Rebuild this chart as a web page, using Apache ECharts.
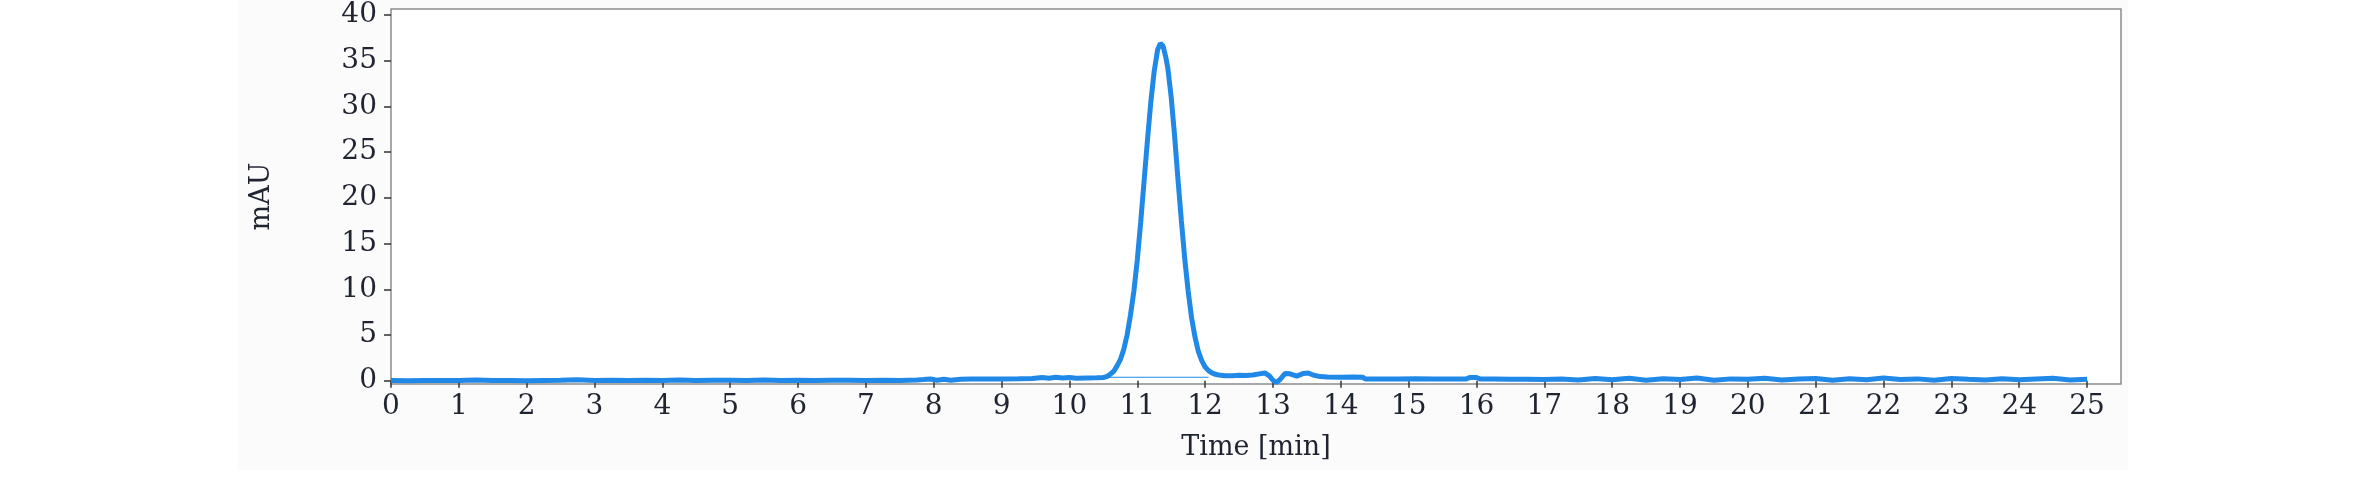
<!DOCTYPE html>
<html>
<head>
<meta charset="utf-8">
<title>Chromatogram</title>
<script src="https://cdn.jsdelivr.net/npm/echarts@6/dist/echarts.min.js"></script>
<style>
  html, body { margin: 0; padding: 0; background: #fff; }
  #chart { width: 2371px; height: 486px; }
</style>
</head>
<body>
<div id="chart"></div>
<script>
// retention time [min]
var times = [
  0, 0.25, 0.5, 0.75, 1, 1.25, 1.5, 1.75, 2, 2.25, 2.5, 2.75, 3, 3.25, 3.5, 3.75,
  4, 4.25, 4.5, 4.75, 5, 5.25, 5.5, 5.75, 6, 6.25, 6.5, 6.75, 7, 7.25, 7.5, 7.75,
  7.85, 7.95, 8.05, 8.15, 8.25, 8.4, 8.55, 8.75, 9, 9.25, 9.45, 9.6, 9.7, 9.8, 9.9, 10, 10.1, 10.25, 10.4,
  10.5, 10.55, 10.6, 10.65, 10.7, 10.75, 10.8, 10.85, 10.9, 10.95, 11, 11.05, 11.1, 11.15, 11.2, 11.25, 11.3, 11.34,
  11.38, 11.42, 11.45, 11.5, 11.55, 11.6, 11.65, 11.7, 11.75, 11.8, 11.85, 11.9, 11.95, 12, 12.05, 12.1, 12.15, 12.2, 12.3,
  12.4, 12.5, 12.6, 12.7, 12.8, 12.88, 12.95, 13, 13.05, 13.1, 13.18, 13.25, 13.35, 13.45, 13.52, 13.6, 13.7, 13.8, 14, 14.2, 14.32,
  14.36, 14.6, 14.85, 15.1, 15.35, 15.6, 15.85, 15.9, 16, 16.05,
  16.25, 16.5, 16.75, 17, 17.25, 17.5, 17.75, 18, 18.25, 18.5, 18.75, 19, 19.25, 19.5, 19.75, 20,
  20.25, 20.5, 20.75, 21, 21.25, 21.5, 21.75, 22, 22.25, 22.5, 22.75, 23, 23.25, 23.5, 23.75, 24, 24.25, 24.5, 24.75, 25
];
// absorbance [mAU]
var mAU = [
  0.02, 0.00, 0.03, 0.01, 0.02, 0.08, 0.01, 0.03, 0.00, 0.02, 0.04, 0.10, 0.02, 0.05, 0.01, 0.06,
  0.03, 0.08, 0.02, 0.04, 0.06, 0.02, 0.07, 0.03, 0.05, 0.01, 0.06, 0.04, 0.02, 0.05, 0.03, 0.08,
  0.12, 0.18, 0.06, 0.16, 0.05, 0.15, 0.20, 0.18, 0.20, 0.22, 0.24, 0.36, 0.28, 0.38, 0.30, 0.36, 0.28, 0.30, 0.32,
  0.35, 0.45, 0.7, 1.0, 1.6, 2.3, 3.4, 5.0, 7.2, 9.8, 13.2, 17.3, 21.8, 26.3, 30.5, 33.9, 36.2, 36.9,
  36.6, 35.4, 34.2, 31.0, 26.8, 22.0, 17.5, 13.3, 9.8, 6.9, 4.8, 3.2, 2.2, 1.5, 1.1, 0.85, 0.7, 0.62, 0.55,
  0.55, 0.6, 0.58, 0.62, 0.75, 0.85, 0.5, 0.05, -0.2, 0.1, 0.8, 0.75, 0.5, 0.8, 0.85, 0.6, 0.45, 0.4, 0.38, 0.4, 0.38,
  0.2, 0.2, 0.18, 0.22, 0.2, 0.18, 0.2, 0.35, 0.35, 0.2,
  0.18, 0.15, 0.17, 0.12, 0.2, 0.08, 0.25, 0.1, 0.28, 0.06, 0.22, 0.12, 0.3, 0.05, 0.2, 0.15,
  0.27, 0.08, 0.18, 0.24, 0.06, 0.22, 0.1, 0.3, 0.12, 0.2, 0.05, 0.25, 0.15, 0.08, 0.22, 0.1, 0.18, 0.26, 0.08, 0.15
];
// integration baseline under the main peak
var baseTimes = [10.58, 12.05];
var baseValues = [0.38, 0.38];

var xTicks = [0, 1, 2, 3, 4, 5, 6, 7, 8, 9, 10, 11, 12, 13, 14, 15, 16, 17, 18, 19, 20, 21, 22, 23, 24, 25];
var yTicks = [0, 5, 10, 15, 20, 25, 30, 35, 40];

var font = 'DejaVu Serif';
var blue = '#2088e6';

var chart = echarts.init(document.getElementById('chart'));

var trace = times.map(function(t, i) { return [t, mAU[i]]; });
var baseline = baseTimes.map(function(t, i) { return [t, baseValues[i]]; });

chart.setOption({
  animation: false,
  backgroundColor: '#fff',
  graphic: [{
    type: 'rect',
    z: -10,
    shape: { x: 238, y: 0, width: 1890, height: 470 },
    style: { fill: '#fbfbfb' }
  }],
  grid: {
    left: 391,
    right: 250,
    top: 9,
    bottom: 102,
    show: true,
    backgroundColor: '#fff',
    borderColor: '#8c8c8c',
    borderWidth: 1.5
  },
  xAxis: {
    type: 'value',
    min: 0,
    max: 25.5,
    name: 'Time [min]',
    nameLocation: 'middle',
    nameGap: 50,
    nameTextStyle: { fontFamily: font, fontSize: 27, color: '#1f2430' },
    axisLine: { show: false },
    axisTick: { customValues: xTicks, length: 7, lineStyle: { color: '#333', width: 1.5 } },
    axisLabel: { customValues: xTicks, fontFamily: font, fontSize: 28, color: '#1f2430', margin: 9 },
    splitLine: { show: false }
  },
  yAxis: {
    type: 'value',
    min: -0.36,
    max: 40.66,
    name: 'mAU',
    nameLocation: 'middle',
    nameGap: 116,
    nameTextStyle: { fontFamily: font, fontSize: 27, color: '#1f2430' },
    axisLine: { show: false },
    axisTick: { customValues: yTicks, length: 7, lineStyle: { color: '#333', width: 1.5 } },
    axisLabel: { customValues: yTicks, fontFamily: font, fontSize: 28, color: '#1f2430', margin: 14 },
    splitLine: { show: false }
  },
  series: [{
    type: 'line',
    data: trace,
    showSymbol: false,
    lineStyle: { color: blue, width: 5 },
    z: 3
  }, {
    type: 'line',
    data: baseline,
    showSymbol: false,
    lineStyle: { color: blue, width: 1.2 },
    z: 2
  }]
});
</script>
</body>
</html>
